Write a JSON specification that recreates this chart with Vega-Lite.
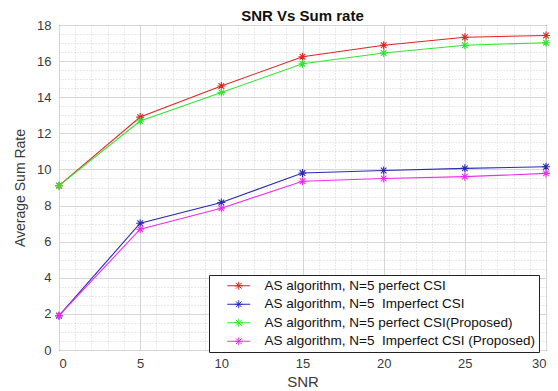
{
  "$schema": "https://vega.github.io/schema/vega-lite/v6.json",
  "width": 487,
  "height": 325,
  "autosize": {"type": "none"},
  "padding": {"left": 59, "top": 25, "right": 12, "bottom": 41},
  "background": "white",
  "config": {
    "font": "Liberation Sans",
    "view": {"stroke": "#3a3a3a", "strokeWidth": 1},
    "axis": {"labelFont": "Liberation Sans", "titleFont": "Liberation Sans", "labelColor": "#3a3a3a", "titleColor": "#3a3a3a", "titleFontWeight": "normal"}
  },
  "title": {"text": "SNR Vs Sum rate", "fontSize": 15, "fontWeight": "bold", "font": "Liberation Sans", "color": "#111", "offset": -5, "anchor": "middle"},
  "data": {"values": [
    {"snr": 0, "rate": 9.1, "series": "AS algorithm, N=5 perfect CSI"},
    {"snr": 5, "rate": 12.9, "series": "AS algorithm, N=5 perfect CSI"},
    {"snr": 10, "rate": 14.62, "series": "AS algorithm, N=5 perfect CSI"},
    {"snr": 15, "rate": 16.24, "series": "AS algorithm, N=5 perfect CSI"},
    {"snr": 20, "rate": 16.88, "series": "AS algorithm, N=5 perfect CSI"},
    {"snr": 25, "rate": 17.32, "series": "AS algorithm, N=5 perfect CSI"},
    {"snr": 30, "rate": 17.42, "series": "AS algorithm, N=5 perfect CSI"},
    {"snr": 0, "rate": 1.9, "series": "AS algorithm, N=5  Imperfect CSI"},
    {"snr": 5, "rate": 7.02, "series": "AS algorithm, N=5  Imperfect CSI"},
    {"snr": 10, "rate": 8.17, "series": "AS algorithm, N=5  Imperfect CSI"},
    {"snr": 15, "rate": 9.8, "series": "AS algorithm, N=5  Imperfect CSI"},
    {"snr": 20, "rate": 9.94, "series": "AS algorithm, N=5  Imperfect CSI"},
    {"snr": 25, "rate": 10.06, "series": "AS algorithm, N=5  Imperfect CSI"},
    {"snr": 30, "rate": 10.15, "series": "AS algorithm, N=5  Imperfect CSI"},
    {"snr": 0, "rate": 9.1, "series": "AS algorithm, N=5 perfect CSI(Proposed)"},
    {"snr": 5, "rate": 12.68, "series": "AS algorithm, N=5 perfect CSI(Proposed)"},
    {"snr": 10, "rate": 14.26, "series": "AS algorithm, N=5 perfect CSI(Proposed)"},
    {"snr": 15, "rate": 15.85, "series": "AS algorithm, N=5 perfect CSI(Proposed)"},
    {"snr": 20, "rate": 16.45, "series": "AS algorithm, N=5 perfect CSI(Proposed)"},
    {"snr": 25, "rate": 16.88, "series": "AS algorithm, N=5 perfect CSI(Proposed)"},
    {"snr": 30, "rate": 17.02, "series": "AS algorithm, N=5 perfect CSI(Proposed)"},
    {"snr": 0, "rate": 1.9, "series": "AS algorithm, N=5  Imperfect CSI (Proposed)"},
    {"snr": 5, "rate": 6.69, "series": "AS algorithm, N=5  Imperfect CSI (Proposed)"},
    {"snr": 10, "rate": 7.85, "series": "AS algorithm, N=5  Imperfect CSI (Proposed)"},
    {"snr": 15, "rate": 9.35, "series": "AS algorithm, N=5  Imperfect CSI (Proposed)"},
    {"snr": 20, "rate": 9.5, "series": "AS algorithm, N=5  Imperfect CSI (Proposed)"},
    {"snr": 25, "rate": 9.6, "series": "AS algorithm, N=5  Imperfect CSI (Proposed)"},
    {"snr": 30, "rate": 9.78, "series": "AS algorithm, N=5  Imperfect CSI (Proposed)"}
  ]},
  "resolve": {"axis": {"x": "independent", "y": "independent"}},
  "layer": [
    {
      "mark": {"type": "point", "opacity": 0},
      "encoding": {
        "x": {"field": "snr", "type": "quantitative", "scale": {"domain": [0, 30], "nice": false, "zero": false},
          "axis": {"orient": "top", "values": [1,2,3,4,6,7,8,9,11,12,13,14,16,17,18,19,21,22,23,24,26,27,28,29], "grid": true, "gridDash": [1, 2], "gridColor": "#c8c8c8", "gridWidth": 0.8, "labels": false, "ticks": false, "domain": false, "title": null}},
        "y": {"field": "rate", "type": "quantitative", "scale": {"domain": [0, 18], "nice": false},
          "axis": {"orient": "right", "values": [0.5,1,1.5,2.5,3,3.5,4.5,5,5.5,6.5,7,7.5,8.5,9,9.5,10.5,11,11.5,12.5,13,13.5,14.5,15,15.5,16.5,17,17.5], "grid": true, "gridDash": [1, 2], "gridColor": "#c8c8c8", "gridWidth": 0.8, "labels": false, "ticks": false, "domain": false, "title": null}}
      }
    },
    {
      "mark": {"type": "line", "strokeWidth": 1.1},
      "encoding": {
        "x": {"field": "snr", "type": "quantitative", "scale": {"domain": [0, 30], "nice": false, "zero": false},
          "axis": {"orient": "bottom", "values": [0,5,10,15,20,25,30], "grid": true, "gridColor": "#d6d6d6", "gridWidth": 1, "ticks": false, "domain": false, "labelFontSize": 13, "labelPadding": 7, "title": "SNR", "titleFontSize": 15, "titlePadding": 4}},
        "y": {"field": "rate", "type": "quantitative", "scale": {"domain": [0, 18], "nice": false},
          "axis": {"orient": "left", "values": [0,2,4,6,8,10,12,14,16,18], "grid": true, "gridColor": "#d6d6d6", "gridWidth": 1, "ticks": false, "domain": false, "labelFontSize": 13, "labelPadding": 8, "title": "Average Sum Rate", "titleFontSize": 14, "titlePadding": 9}},
        "color": {"field": "series", "type": "nominal",
          "scale": {"domain": ["AS algorithm, N=5 perfect CSI", "AS algorithm, N=5  Imperfect CSI", "AS algorithm, N=5 perfect CSI(Proposed)", "AS algorithm, N=5  Imperfect CSI (Proposed)"], "range": ["#e02424", "#2a2ab4", "#2ee82e", "#ee2eee"]},
          "legend": {"orient": "none", "legendX": 150, "legendY": 250, "title": null, "labelFontSize": 13.5, "labelFont": "Liberation Sans", "labelColor": "#111", "labelLimit": 400, "symbolType": "M-2.3,0L2.3,0M0,-0.8L0,0.8M-0.8,0L0.8,0M-0.57,-0.57L0.57,0.57M-0.57,0.57L0.57,-0.57", "symbolSize": 100, "symbolStrokeWidth": 1, "symbolOffset": 19, "labelOffset": 19, "rowPadding": 3.5, "padding": 4, "strokeColor": "#222", "fillColor": "white", "labelExpr": "replace(datum.label, 'N=5  ', 'N=5\u00a0 ')"}}
      }
    },
    {
      "mark": {"type": "point", "shape": "M-1,0L1,0M0,-1L0,1M-0.7,-0.7L0.7,0.7M-0.7,0.7L0.7,-0.7", "filled": false, "size": 64, "strokeWidth": 1.1, "opacity": 1},
      "encoding": {
        "x": {"field": "snr", "type": "quantitative", "axis": null},
        "y": {"field": "rate", "type": "quantitative", "axis": null},
        "color": {"field": "series", "type": "nominal", "legend": null}
      }
    }
  ]
}
